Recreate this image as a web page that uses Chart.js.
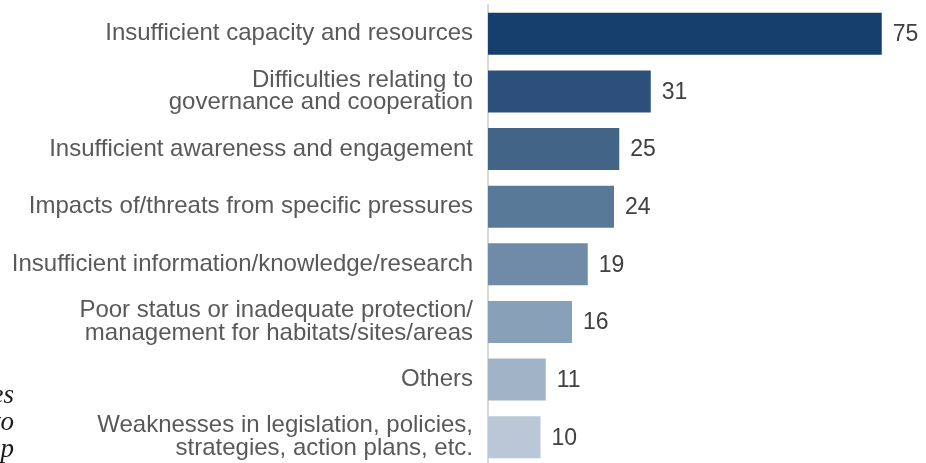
<!DOCTYPE html>
<html>
<head>
<meta charset="utf-8">
<script src="https://cdn.jsdelivr.net/npm/chart.js@4.4.0/dist/chart.umd.min.js"></script>
<style>
  html, body { margin: 0; padding: 0; background: #fff; overflow: hidden; }
  #wrap { position: relative; width: 926px; height: 468px; }
  .frag {
    position: absolute; left: -200px; width: 214px; text-align: right;
    font-family: "Liberation Serif", serif; font-style: italic; font-size: 27px;
    line-height: 27px; color: #1a1a1a;
  }
</style>
</head>
<body>
<div id="wrap">
  <canvas id="chart" width="926" height="468"></canvas>
  <div class="frag" style="top:381px">es<br>to<br>p</div>
</div>
<script>
const categories = [
  'Insufficient capacity and resources',
  ['Difficulties relating to', 'governance and cooperation'],
  'Insufficient awareness and engagement',
  'Impacts of/threats from specific pressures',
  'Insufficient information/knowledge/research',
  ['Poor status or inadequate protection/', 'management for habitats/sites/areas'],
  'Others',
  ['Weaknesses in legislation, policies,', 'strategies, action plans, etc.']
];
const counts = [75, 31, 25, 24, 19, 16, 11, 10];
const barColors = ['#163f6e', '#2c5079', '#416487', '#587898', '#6f8ba8', '#88a0b8', '#a1b3c7', '#b9c7d6'];

const valueLabels = {
  id: 'valueLabels',
  afterDatasetsDraw(chart) {
    const ctx = chart.ctx;
    const meta = chart.getDatasetMeta(0);
    ctx.save();
    ctx.font = '23px "Liberation Sans", Arial, sans-serif';
    ctx.fillStyle = '#404040';
    ctx.textBaseline = 'middle';
    ctx.textAlign = 'left';
    meta.data.forEach((bar, i) => {
      ctx.fillText(counts[i], bar.x + 11, bar.y + 1);
    });
    ctx.restore();
  }
};

new Chart(document.getElementById('chart'), {
  type: 'bar',
  data: {
    labels: categories,
    datasets: [{
      data: counts,
      backgroundColor: barColors,
      barPercentage: 0.73,
      categoryPercentage: 1
    }]
  },
  options: {
    indexAxis: 'y',
    responsive: false,
    animation: false,
    layout: { padding: { top: 5, right: 18, bottom: 2, left: 0 } },
    plugins: { legend: { display: false }, tooltip: { enabled: false } },
    scales: {
      x: {
        display: false,
        min: 0,
        max: 80
      },
      y: {
        afterFit(scale) {
          scale.width = 488;
          scale.paddingTop = 0;
          scale.paddingBottom = 0;
        },
        grid: { display: false, drawTicks: false },
        border: { display: true, color: '#d9d9d9', width: 2 },
        ticks: {
          padding: 15,
          color: '#595959',
          font: { family: '"Liberation Sans", Arial, sans-serif', size: 24, lineHeight: 0.95 }
        }
      }
    }
  },
  plugins: [valueLabels]
});
</script>
</body>
</html>
